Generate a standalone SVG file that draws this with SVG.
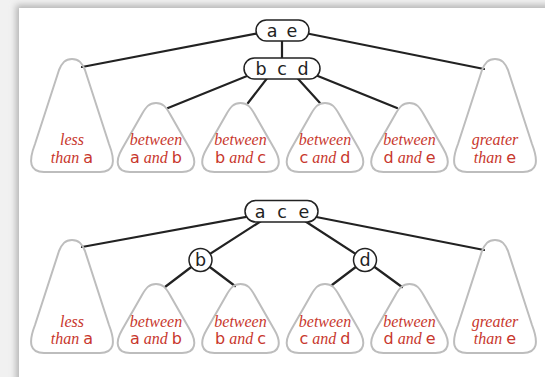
<svg xmlns="http://www.w3.org/2000/svg" xmlns:xlink="http://www.w3.org/1999/xlink" width="545" height="377" viewBox="0 0 545 377">
<style>
.tri{fill:none;stroke:#bdbdbd;stroke-width:2}
.edge{stroke:#222;stroke-width:2.2;fill:none;stroke-linecap:round}
.node{fill:#fff;stroke:#222;stroke-width:1.5}
.key{font-family:"DejaVu Sans","Liberation Sans",sans-serif;font-size:17.5px;fill:#222;text-anchor:middle}
.lbl{font-family:"Liberation Serif",serif;font-style:italic;font-size:16px;fill:#c8372d;text-anchor:middle}
.k{font-family:"DejaVu Sans","Liberation Sans",sans-serif;font-style:normal}
</style>
<defs>
<filter id="sh" x="-5%" y="-5%" width="110%" height="110%"><feGaussianBlur stdDeviation="3"/></filter>
<path id="small" d="M0,0 C7,0 10,4 14,11 L34,46 C41,58 40,69 26,69 L-26,69 C-40,69 -41,58 -34,46 L-14,11 C-10,4 -7,0 0,0 Z"/>
<path id="big" d="M0,0 C7,0 10,4 13,11 L37,85 C44,103 42,113 28,113 L-28,113 C-42,113 -44,103 -37,85 L-13,11 C-10,4 -7,0 0,0 Z"/>
</defs>
<rect x="0" y="0" width="545" height="377" fill="#f1f1f1"/>
<rect x="16" y="5" width="540" height="380" fill="#b5b5b5" filter="url(#sh)"/>
<rect x="19" y="8" width="530" height="375" fill="#fff"/>

<g id="connectors">
<line class="edge" x1="270" y1="31" x2="82" y2="67"/>
<line class="edge" x1="295" y1="31" x2="484" y2="69"/>
<line class="edge" x1="282" y1="30" x2="282" y2="68"/>
<line class="edge" x1="262" y1="70" x2="168" y2="108"/>
<line class="edge" x1="275" y1="68" x2="248" y2="103"/>
<line class="edge" x1="290" y1="70" x2="320" y2="103"/>
<line class="edge" x1="303" y1="70" x2="397" y2="108"/>
<line class="edge" x1="262" y1="214" x2="82" y2="247"/>
<line class="edge" x1="301" y1="214" x2="484" y2="250"/>
<line class="edge" x1="272" y1="214" x2="200.5" y2="260"/>
<line class="edge" x1="294" y1="214" x2="365" y2="260"/>
<line class="edge" x1="200.5" y1="260" x2="165" y2="287"/>
<line class="edge" x1="200.5" y1="260" x2="235" y2="286"/>
<line class="edge" x1="365" y1="260" x2="332" y2="285"/>
<line class="edge" x1="365" y1="260" x2="402" y2="287"/>
</g>

<g id="n-ae">
<rect class="node" x="256" y="20" width="53" height="21" rx="10.5"/>
<text class="key" x="272" y="37">a</text><text class="key" x="292" y="37">e</text>
</g>
<g id="n-bcd">
<rect class="node" x="244" y="58" width="76" height="21" rx="10.5"/>
<text class="key" x="261" y="75">b</text><text class="key" x="282" y="75">c</text><text class="key" x="303" y="75">d</text>
</g>

<g id="t1-lt-a"><use href="#big" xlink:href="#big" class="tri" x="72" y="59"/>
<text class="lbl" x="72" y="145">less</text><text class="lbl" x="72" y="163">than <tspan class="k">a</tspan></text></g>
<g id="t1-ab"><use href="#small" xlink:href="#small" class="tri" x="156" y="103"/>
<text class="lbl" x="156" y="145">between</text><text class="lbl" x="156" y="163"><tspan class="k">a</tspan> and <tspan class="k">b</tspan></text></g>
<g id="t1-bc"><use href="#small" xlink:href="#small" class="tri" x="240.5" y="103"/>
<text class="lbl" x="240.5" y="145">between</text><text class="lbl" x="240.5" y="163"><tspan class="k">b</tspan> and <tspan class="k">c</tspan></text></g>
<g id="t1-cd"><use href="#small" xlink:href="#small" class="tri" x="325" y="103"/>
<text class="lbl" x="325" y="145">between</text><text class="lbl" x="325" y="163"><tspan class="k">c</tspan> and <tspan class="k">d</tspan></text></g>
<g id="t1-de"><use href="#small" xlink:href="#small" class="tri" x="409.5" y="103"/>
<text class="lbl" x="409.5" y="145">between</text><text class="lbl" x="409.5" y="163"><tspan class="k">d</tspan> and <tspan class="k">e</tspan></text></g>
<g id="t1-gt-e"><use href="#big" xlink:href="#big" class="tri" x="495" y="59"/>
<text class="lbl" x="495" y="145">greater</text><text class="lbl" x="495" y="163">than <tspan class="k">e</tspan></text></g>

<g id="n-ace">
<rect class="node" x="245" y="200.5" width="73" height="21.5" rx="10.75"/>
<text class="key" x="260" y="218">a</text><text class="key" x="282" y="218">c</text><text class="key" x="304" y="218">e</text>
</g>
<g id="n-b">
<circle class="node" cx="200.5" cy="260" r="11.5"/>
<text class="key" x="200.5" y="266">b</text>
</g>
<g id="n-d">
<circle class="node" cx="365" cy="260" r="11.5"/>
<text class="key" x="365" y="266">d</text>
</g>

<g id="t2-lt-a"><use href="#big" xlink:href="#big" class="tri" x="72" y="240"/>
<text class="lbl" x="72" y="326.5">less</text><text class="lbl" x="72" y="344">than <tspan class="k">a</tspan></text></g>
<g id="t2-ab"><use href="#small" xlink:href="#small" class="tri" x="156" y="284"/>
<text class="lbl" x="156" y="326.5">between</text><text class="lbl" x="156" y="344"><tspan class="k">a</tspan> and <tspan class="k">b</tspan></text></g>
<g id="t2-bc"><use href="#small" xlink:href="#small" class="tri" x="240.5" y="284"/>
<text class="lbl" x="240.5" y="326.5">between</text><text class="lbl" x="240.5" y="344"><tspan class="k">b</tspan> and <tspan class="k">c</tspan></text></g>
<g id="t2-cd"><use href="#small" xlink:href="#small" class="tri" x="325" y="284"/>
<text class="lbl" x="325" y="326.5">between</text><text class="lbl" x="325" y="344"><tspan class="k">c</tspan> and <tspan class="k">d</tspan></text></g>
<g id="t2-de"><use href="#small" xlink:href="#small" class="tri" x="409.5" y="284"/>
<text class="lbl" x="409.5" y="326.5">between</text><text class="lbl" x="409.5" y="344"><tspan class="k">d</tspan> and <tspan class="k">e</tspan></text></g>
<g id="t2-gt-e"><use href="#big" xlink:href="#big" class="tri" x="495" y="240"/>
<text class="lbl" x="495" y="326.5">greater</text><text class="lbl" x="495" y="344">than <tspan class="k">e</tspan></text></g>
</svg>
